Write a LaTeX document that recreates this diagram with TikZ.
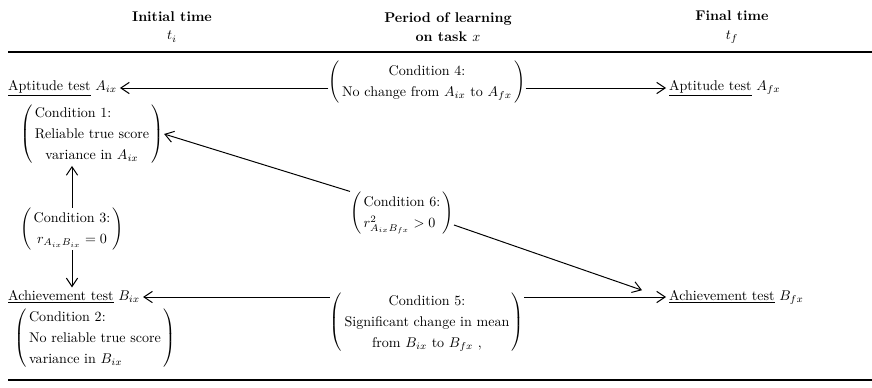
\documentclass[tikz,border=0pt]{standalone}
\usepackage{amsmath,amssymb}
\usepackage{tikz}
\usetikzlibrary{calc,positioning,arrows.meta}
\renewcommand{\arraystretch}{1.25}
% bracketed condition text
\newcommand{\cond}[2]{$\left(\begin{tabular}{@{\,}#1@{\,}}#2\end{tabular}\right)$}

\begin{document}
\begin{tikzpicture}[x=0.025cm,y=-0.025cm,
                    hdr/.style={align=center,font=\bfseries},
                    testlbl/.style={anchor=west,inner sep=2pt},
                    condbox/.style={inner sep=0pt},
                    arr/.style={-{Straight Barb[length=6pt,width=8pt]},line width=0.7pt},
                    rule/.style={line width=0.9pt}]
    \useasboundingbox (0,0) rectangle (872,387);
    % column headings
    \node[hdr] (ti) at (172,27) {Initial time\\[1pt] $t_i$};
    \node[hdr] (per) at (448,27) {Period of learning\\[1pt] on task $x$};
    \node[hdr] (tf) at (732,27) {Final time\\[1pt] $t_f$};
    \draw[rule] (8,52) -- (872,52);
    \draw[rule] (8,380) -- (872,380);
    % tests
    \node[testlbl] (Ai) at (5,88) {\underline{Aptitude test} $A_{ix}$};
    \node[testlbl] (Af) at (666,88) {\underline{Aptitude test} $A_{fx}$};
    \node[testlbl] (Bi) at (5,297) {\underline{Achievement test} $B_{ix}$};
    \node[testlbl] (Bf) at (666,297) {\underline{Achievement test} $B_{fx}$};
    % conditions
    \node[condbox] (c4) at (427,82) {\cond{c}{Condition 4:\\ No change from $A_{ix}$ to $A_{fx}$}};
    \node[condbox] (c1) at (92,134) {\cond{c}{\multicolumn{1}{@{\,}l@{\,}}{Condition 1:}\\ Reliable true score\\ variance in $A_{ix}$}};
    \node[condbox] (c3) at (72,229) {\cond{c}{Condition 3:\\ $r_{A_{ix}B_{ix}} = 0$}};
    \node[condbox] (c2) at (95,338) {\cond{l}{Condition 2:\\ No reliable true score\\ variance in $B_{ix}$}};
    \node[condbox] (c6) at (402,213) {\cond{c}{Condition 6:\\ \multicolumn{1}{@{\,}l@{\,}}{$r^2_{A_{ix}B_{fx}} > 0$}}};
    \node[condbox] (c5) at (427,322) {\cond{c}{Condition 5:\\ Significant change in mean\\ from $B_{ix}$ to $B_{fx}$ ,}};
    % arrows
    \draw[arr] (c4.west |- Ai.east) -- (Ai.east);
    \draw[arr] (c4.east |- Af.west) -- (Af.west);
    \draw[arr] (c3.north) -- (c3.north |- c1.south);
    \draw[arr] (c3.south) -- (c3.south |- Bi.north);
    \draw[arr] (c6.north west) -- (c1.east);
    \draw[arr] (c6.-13) -- ([xshift=-0.6cm,yshift=0.17cm]Bf.west);
    \draw[arr] (c5.west |- Bi.east) -- (Bi.east);
    \draw[arr] (c5.east |- Bf.west) -- (Bf.west);
  \end{tikzpicture}
\end{document}
